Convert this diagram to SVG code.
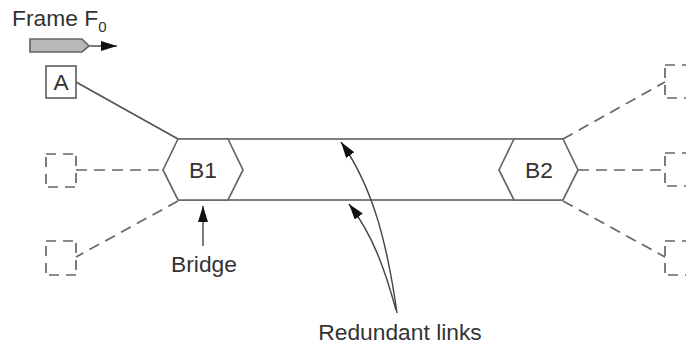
<svg xmlns="http://www.w3.org/2000/svg" width="686" height="348" viewBox="0 0 686 348">
<style>
text{font-family:"Liberation Sans",Arial,sans-serif;font-size:22.8px;fill:#333}
.s{fill:none;stroke:#555;stroke-width:1.7}
.d{fill:none;stroke:#666;stroke-width:1.7;stroke-dasharray:11 7}
.b{fill:none;stroke:#666;stroke-width:1.7;stroke-dasharray:10 7 10 5}
.h{fill:#fff;stroke:#666;stroke-width:1.7}
.a{fill:none;stroke:#444;stroke-width:1.4}
</style>
<defs><marker id="m" markerWidth="18" markerHeight="12" refX="16" refY="5" orient="auto" markerUnits="userSpaceOnUse"><path d="M0 0L16 5L0 10Z" fill="#111"/></marker></defs>
<rect width="686" height="348" fill="#fff"/>
<g id="connectors">
<path class="s" d="M76 82L178 139"/>
<path class="d" d="M76 170H163"/>
<path class="d" d="M178 201L76 257"/>
<path class="s" d="M178 139H563M178 200H563"/>
<path class="d" d="M563 139L665 82"/>
<path class="d" d="M578 170H665"/>
<path class="d" d="M563 201L665 257"/>
<path class="a" d="M203 246V206" marker-end="url(#m)"/>
<path class="a" d="M397 313C388 250 375 190 341 142" marker-end="url(#m)"/>
<path class="a" d="M396 310C385 270 373 235 349 204" marker-end="url(#m)"/>
<path class="a" d="M89 46H117" marker-end="url(#m)"/>
</g>
<g id="frame"><path d="M30 39H82L89 46L82 52H30Z" fill="#b8b8b8" stroke="#666" stroke-width="1.7"/><text x="12" y="26">Frame F<tspan font-size="15" dy="6">0</tspan></text></g>
<g id="A"><rect x="46" y="66" width="30" height="32" fill="#fff" stroke="#666" stroke-width="1.7"/><text x="61" y="90" text-anchor="middle">A</text></g>
<g id="L2"><rect class="b" x="46" y="154" width="30" height="33"/></g>
<g id="L3"><rect class="b" x="46" y="241" width="30" height="34"/></g>
<g id="R1"><rect class="b" x="665" y="65" width="30" height="33"/></g>
<g id="R2"><rect class="b" x="665" y="153" width="30" height="33"/></g>
<g id="R3"><rect class="b" x="665" y="241" width="30" height="34"/></g>
<g id="B1"><path class="h" d="M163 170L178 139H228L243 170L228 200H178Z"/><text x="203" y="178" text-anchor="middle">B1</text></g>
<g id="B2"><path class="h" d="M499 170L514 139H563L578 170L563 200H514Z"/><text x="539" y="178" text-anchor="middle">B2</text></g>
<g id="bridge-label"><text x="204" y="272" text-anchor="middle">Bridge</text></g>
<g id="links-label"><text x="400" y="340" text-anchor="middle">Redundant links</text></g>
</svg>
